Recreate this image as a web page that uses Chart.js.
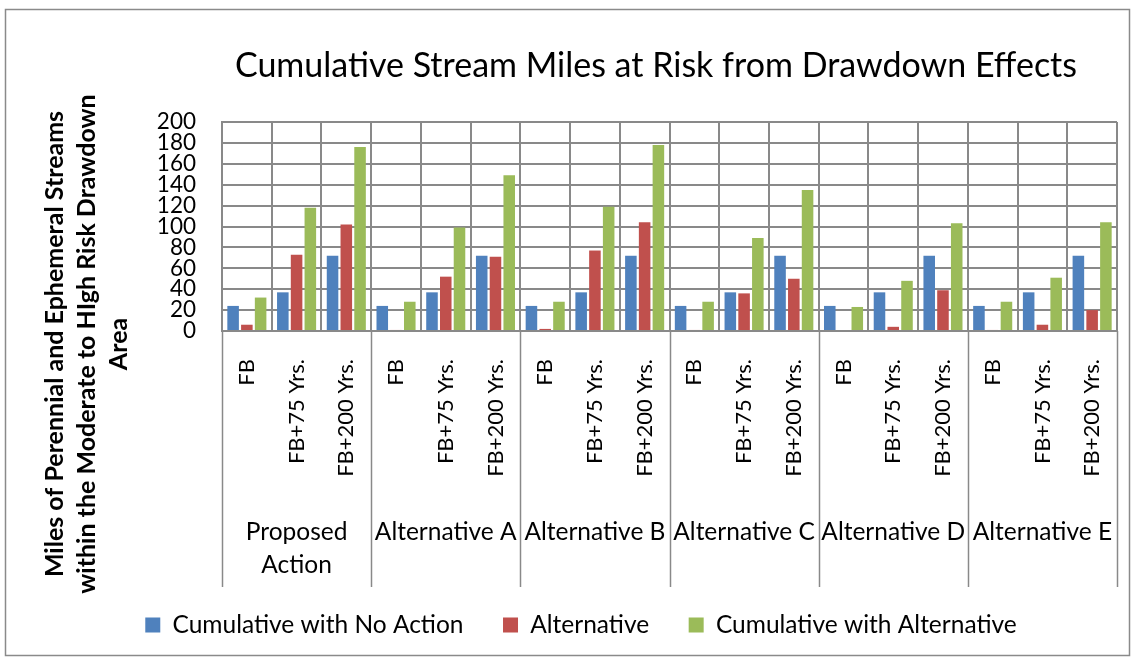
<!DOCTYPE html>
<html><head><meta charset="utf-8">
<script src="https://cdn.jsdelivr.net/npm/chart.js@4.4.1/dist/chart.umd.min.js"></script>
<style>html,body{margin:0;padding:0;background:#fff;}</style>
</head><body>
<canvas id="c" width="1134" height="661"></canvas>
<script>
// ---- data ----
const chartTitle = 'Cumulative Stream Miles at Risk from Drawdown Effects';
const yTitleLines = ['Miles of Perennial and Ephemeral Streams', 'within the Moderate to HIgh Risk Drawdown', 'Area'];
const groups = ['Proposed Action', 'Alternative A', 'Alternative B', 'Alternative C', 'Alternative D', 'Alternative E'];
const periods = ['FB', 'FB+75 Yrs.', 'FB+200 Yrs.'];
const seriesNames = ['Cumulative with No Action', 'Alternative', 'Cumulative with Alternative'];
const noAction      = [24, 37, 72,  24, 37, 72,  24, 37, 72,  24, 37, 72,  24, 37, 72,  24, 37, 72];
const alternative   = [6, 73, 102,  1, 52, 71,   2, 77, 104,  1, 36, 50,   0, 4, 39,    1, 6, 20];
const cumulativeAlt = [32, 118, 176, 28, 99, 149, 28, 119, 178, 28, 89, 135, 23, 48, 103, 28, 51, 104];
const yMin = 0, yMax = 200, yStep = 20;

const labels = groups.flatMap(() => periods);
const colors = ['#4F81BD', '#C0504D', '#9BBB59'];
const FONT = 'Lato';
const GRID = '#898989';

function wrap(ctx, text, maxW) {
  const words = text.split(' ');
  const lines = [];
  let cur = '';
  for (const w of words) {
    const t = cur ? cur + ' ' + w : w;
    if (ctx.measureText(t).width > maxW && cur) { lines.push(cur); cur = w; }
    else cur = t;
  }
  lines.push(cur);
  return lines;
}

const decor = {
  id: 'decor',
  beforeDraw(chart) {
    const ctx = chart.ctx;
    ctx.save();
    ctx.fillStyle = '#fff';
    ctx.fillRect(0, 0, chart.width, chart.height);
    ctx.strokeStyle = '#8a8a8a';
    ctx.lineWidth = 1.5;
    ctx.strokeRect(5.5, 9.5, 1124, 646);
    ctx.restore();
  },
  afterDraw(chart) {
    const ctx = chart.ctx;
    const area = chart.chartArea;
    const x = chart.scales.x;
    ctx.save();
    // title
    ctx.fillStyle = '#000';
    ctx.font = `34px ${FONT}`;
    ctx.textAlign = 'center';
    ctx.textBaseline = 'middle';
    ctx.fillText(chartTitle, 656, 66);
    // y title
    ctx.font = `bold 25px ${FONT}`;
    ctx.textBaseline = 'alphabetic';
    const bases = [63, 95, 127];
    yTitleLines.forEach((t, i) => {
      ctx.save();
      ctx.translate(bases[i], 344);
      ctx.rotate(-Math.PI / 2);
      ctx.fillText(t, 0, 0);
      ctx.restore();
    });
    // group separators
    const n = periods.length;
    const bottom = 587;
    ctx.strokeStyle = GRID;
    ctx.lineWidth = 1.5;
    const seps = [area.left];
    for (let g = 1; g < groups.length; g++) {
      seps.push((x.getPixelForValue(g * n - 1) + x.getPixelForValue(g * n)) / 2);
    }
    seps.push(area.right);
    seps.forEach(sx => {
      ctx.beginPath();
      ctx.moveTo(Math.round(sx) + 0.5, area.bottom);
      ctx.lineTo(Math.round(sx) + 0.5, bottom);
      ctx.stroke();
    });
    // group labels
    ctx.font = `24.5px ${FONT}`;
    ctx.textBaseline = 'middle';
    groups.forEach((g, i) => {
      const cx = (seps[i] + seps[i + 1]) / 2;
      const lines = wrap(ctx, g, seps[i + 1] - seps[i] + 2);
      lines.forEach((l, j) => ctx.fillText(l, cx, 532 + j * 33));
    });
    ctx.restore();
  }
};

new Chart(document.getElementById('c'), {
  type: 'bar',
  data: {
    labels,
    datasets: [
      { label: seriesNames[0], data: noAction, backgroundColor: colors[0], borderWidth: 0 },
      { label: seriesNames[1], data: alternative, backgroundColor: colors[1], borderWidth: 0 },
      { label: seriesNames[2], data: cumulativeAlt, backgroundColor: colors[2], borderWidth: 0 }
    ]
  },
  options: {
    responsive: false,
    animation: false,
    devicePixelRatio: 1,
    layout: { padding: { top: 122, left: 45, right: 17, bottom: 13.75 } },
    datasets: { bar: { categoryPercentage: 0.83, barPercentage: 0.84 } },
    plugins: {
      title: { display: false },
      tooltip: { enabled: false },
      legend: {
        position: 'bottom',
        labels: { boxWidth: 15, boxHeight: 15, padding: 39.5, color: '#000', font: { family: FONT, size: 24.5 } }
      }
    },
    scales: {
      x: {
        offset: true,
        grid: { offset: true, color: GRID, lineWidth: 2, drawTicks: false, tickLength: 0 },
        border: { color: GRID, width: 2 },
        ticks: { autoSkip: false, minRotation: 90, maxRotation: 90, padding: 28, color: '#000', font: { family: FONT, size: 22 } },
        afterFit(s) { s.height = 242.25; s.paddingLeft = 0; s.paddingRight = 0; }
      },
      y: {
        min: yMin, max: yMax,
        grid: { color: GRID, lineWidth: 2, drawTicks: false, tickLength: 0 },
        border: { color: GRID, width: 2 },
        ticks: { stepSize: yStep, autoSkip: false, padding: 26, color: '#000', font: { family: FONT, size: 22.5 } },
        afterFit(s) { s.width = 177; s.paddingTop = 0; s.paddingBottom = 0; }
      }
    }
  },
  plugins: [decor]
});
</script>
</body></html>
